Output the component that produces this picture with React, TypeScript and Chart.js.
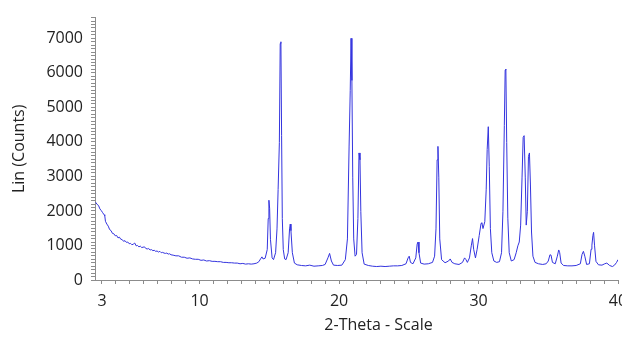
import React, { useEffect, useRef } from "react";
import { Chart, registerables } from "chart.js";

Chart.register(...registerables);

// 2-Theta positions (degrees) and intensities (counts)
const twoTheta: number[] = [
  2.55, 2.65, 2.75, 2.85, 2.95, 3.05, 3.15, 3.2, 3.25, 3.35, 3.45, 3.55, 3.65, 3.75, 3.85, 3.95,
  4.05, 4.15, 4.25, 4.35, 4.45, 4.55, 4.65, 4.75, 4.85, 4.95, 5.05, 5.15, 5.25, 5.35, 5.45, 5.55,
  5.65, 5.75, 5.85, 5.95, 6.05, 6.15, 6.25, 6.35, 6.45, 6.55, 6.65, 6.75, 6.85, 6.95, 7.05, 7.15,
  7.25, 7.35, 7.45, 7.55, 7.65, 7.75, 7.85, 7.95, 8.1, 8.3, 8.5, 8.7, 8.9, 9.1, 9.3, 9.5,
  9.7, 9.9, 10.1, 10.3, 10.5, 10.7, 10.9, 11.1, 11.3, 11.5, 11.7, 11.9, 12.1, 12.3, 12.5, 12.7,
  12.9, 13.1, 13.3, 13.5, 13.7, 13.9, 14.1, 14.25, 14.4, 14.47, 14.55, 14.7, 14.85, 14.92, 14.97, 15.02,
  15.08, 15.2, 15.3, 15.45, 15.55, 15.63, 15.72, 15.78, 15.83, 15.88, 15.93, 16.0,
  16.1, 16.2, 16.35, 16.45, 16.5, 16.55, 16.65, 16.8, 17.0, 17.3, 17.6, 17.9, 18.2, 18.5, 18.8, 19.0,
  19.2, 19.32, 19.45, 19.6, 19.9, 20.2, 20.45, 20.6, 20.72, 20.8, 20.86, 20.92, 20.98, 21.05, 21.15, 21.25,
  21.35, 21.43, 21.5, 21.56, 21.65, 21.8, 22.1, 22.4, 22.7, 23.0, 23.3, 23.6, 23.9, 24.2, 24.5, 24.8,
  24.95, 25.03, 25.12, 25.3, 25.5, 25.6, 25.66, 25.73, 25.85, 26.1, 26.4, 26.7, 26.85, 26.95, 27.03, 27.09,
  27.15, 27.22, 27.35, 27.6, 27.85, 27.97, 28.1, 28.3, 28.6, 28.85, 29.0, 29.1, 29.2, 29.35, 29.48, 29.57,
  29.65, 29.78, 29.9, 30.05, 30.18, 30.24, 30.32, 30.45, 30.55, 30.62, 30.7, 30.77, 30.85, 30.95, 31.1, 31.3,
  31.5, 31.65, 31.75, 31.85, 31.91, 31.96, 32.02, 32.1, 32.2, 32.35, 32.55, 32.7, 32.82, 32.92, 33.02, 33.12,
  33.2, 33.27, 33.35, 33.42, 33.5, 33.58, 33.65, 33.72, 33.8, 33.9, 34.05, 34.3, 34.6, 34.85, 35.0, 35.12,
  35.2, 35.3, 35.5, 35.65, 35.75, 35.82, 35.92, 36.1, 36.4, 36.7, 37.0, 37.3, 37.42, 37.52, 37.62, 37.75,
  37.95, 38.07, 38.13, 38.2, 38.25, 38.32, 38.42, 38.6, 38.85, 39.05, 39.2, 39.4, 39.6, 39.75, 39.9, 40.0,
];

const counts: number[] = [
  2250, 2190, 2160, 2060, 2010, 1950, 1890, 1860, 1700, 1620, 1560, 1460, 1430, 1350, 1340, 1280,
  1290, 1220, 1240, 1180, 1170, 1120, 1140, 1090, 1100, 1050, 1060, 1020, 1040, 1070, 990, 1000,
  960, 980, 940, 950, 960, 910, 900, 910, 870, 880, 850, 860, 830, 840, 810, 830,
  790, 800, 780, 770, 780, 750, 760, 730, 720, 700, 700, 660, 660, 630, 640, 610,
  600, 600, 570, 580, 550, 560, 540, 540, 530, 530, 510, 510, 500, 500, 490, 490,
  470, 480, 460, 470, 460, 470, 490, 530, 630, 670, 610, 630, 880, 1780, 2310, 2080,
  1180, 640, 590, 790, 1480, 2620, 3980, 6850, 6900, 4180, 1780, 880,
  610, 590, 790, 1480, 1620, 1430, 790, 490, 440, 420, 410, 430, 400, 410, 420, 450,
  640, 770, 550, 430, 420, 430, 590, 1190, 3880, 5480, 7000, 5780, 2980, 1190, 690, 740,
  1780, 3680, 3480, 1980, 790, 460, 420, 400, 390, 400, 390, 400, 410, 410, 420, 470,
  640, 690, 510, 470, 640, 1040, 1100, 790, 490, 460, 470, 510, 690, 1480, 3480, 3870,
  2980, 1190, 590, 500, 550, 610, 510, 470, 450, 510, 640, 590, 510, 640, 990, 1200,
  890, 640, 890, 1290, 1640, 1660, 1490, 1690, 2630, 3780, 4440, 3280, 1490, 790, 550, 510,
  530, 790, 1990, 4480, 6080, 6110, 3980, 1790, 790, 550, 590, 790, 990, 1100, 1590, 2980,
  4130, 4180, 2980, 1590, 1990, 3580, 3680, 2780, 1390, 690, 510, 470, 450, 470, 550, 730,
  720, 510, 470, 690, 870, 790, 490, 420, 410, 410, 420, 470, 740, 830, 690, 450,
  470, 890, 1010, 1290, 1380, 990, 540, 440, 430, 470, 490, 420, 390, 430, 510, 590,
];

const xTickLabels: number[] = [3, 10, 20, 30, 40];
const xMinorTicks: number[] = [
  3, 4, 5, 6, 7, 8, 9, 10, 11, 12, 13, 14, 15, 16, 17, 18, 19, 20, 21,
  22, 23, 24, 25, 26, 27, 28, 29, 30, 31, 32, 33, 34, 35, 36, 37, 38, 39, 40,
];
const yTickLabels: number[] = [0, 1000, 2000, 3000, 4000, 5000, 6000, 7000];

const X_TITLE = "2-Theta - Scale";
const Y_TITLE = "Lin (Counts)";

const FONT_FAMILY = '"Open Sans", "DejaVu Sans", sans-serif';
const TEXT_COLOR = "#222222";
const AXIS_COLOR = "#8c8c8c";

const xTitlePlugin = {
  id: "xTitleOffset",
  afterDraw(chart: any) {
    const { ctx, chartArea } = chart;
    ctx.save();
    ctx.font = `16px ${FONT_FAMILY}`;
    ctx.fillStyle = TEXT_COLOR;
    ctx.textAlign = "center";
    ctx.textBaseline = "middle";
    ctx.fillText(X_TITLE, (chartArea.left + chartArea.right) / 2 + 22, chartArea.bottom + 45);
    ctx.restore();
  },
};

export default function App() {
  const canvasRef = useRef<HTMLCanvasElement | null>(null);

  useEffect(() => {
    if (!canvasRef.current) return;
    const chart = new Chart(canvasRef.current, {
      type: "line",
      data: {
        datasets: [
          {
            data: twoTheta.map((x, i) => ({ x, y: counts[i] })),
            borderColor: "rgb(52, 52, 222)",
            borderWidth: 1,
            pointRadius: 0,
            tension: 0,
            fill: false,
          },
        ],
      },
      options: {
        responsive: false,
        animation: false,
        devicePixelRatio: 1,
        layout: { padding: { top: 10, right: 22, left: 0, bottom: 0 } },
        plugins: {
          legend: { display: false },
          tooltip: { enabled: false },
        },
        scales: {
          x: {
            type: "linear",
            min: 2.5,
            max: 40,
            afterBuildTicks: (scale: any) => {
              scale.ticks = xMinorTicks.map((v) => ({ value: v }));
            },
            afterFit: (scale: any) => {
              scale.height = 58;
            },
            ticks: {
              autoSkip: false,
              maxRotation: 0,
              padding: 8,
              color: TEXT_COLOR,
              font: { family: FONT_FAMILY, size: 16 },
              callback: (v: any) => (xTickLabels.includes(Number(v)) ? String(v) : ""),
            },
            grid: {
              drawOnChartArea: false,
              drawTicks: true,
              tickLength: 4,
              tickColor: AXIS_COLOR,
            },
            border: { display: true, color: AXIS_COLOR, width: 1 },
          },
          y: {
            type: "linear",
            min: 0,
            max: 7600,
            afterFit: (scale: any) => {
              scale.width = 95;
            },
            ticks: {
              stepSize: 100,
              autoSkip: false,
              padding: 8,
              color: TEXT_COLOR,
              font: { family: FONT_FAMILY, size: 16 },
              callback: (v: any) => (yTickLabels.includes(Number(v)) ? String(v) : ""),
            },
            grid: {
              drawOnChartArea: false,
              drawTicks: true,
              tickLength: 4,
              tickColor: AXIS_COLOR,
            },
            border: { display: true, color: AXIS_COLOR, width: 1 },
            title: {
              display: true,
              text: Y_TITLE,
              color: TEXT_COLOR,
              font: { family: FONT_FAMILY, size: 16 },
              padding: { top: 10, bottom: 0 },
            },
          },
        },
      },
      plugins: [xTitlePlugin],
    });
    return () => chart.destroy();
  }, []);

  return (
    <div
      style={{
        position: "fixed",
        left: 0,
        top: 0,
        width: 622,
        height: 338,
        overflow: "hidden",
        background: "#ffffff",
      }}
    >
      <canvas ref={canvasRef} width={640} height={338} style={{ display: "block" }} />
    </div>
  );
}
